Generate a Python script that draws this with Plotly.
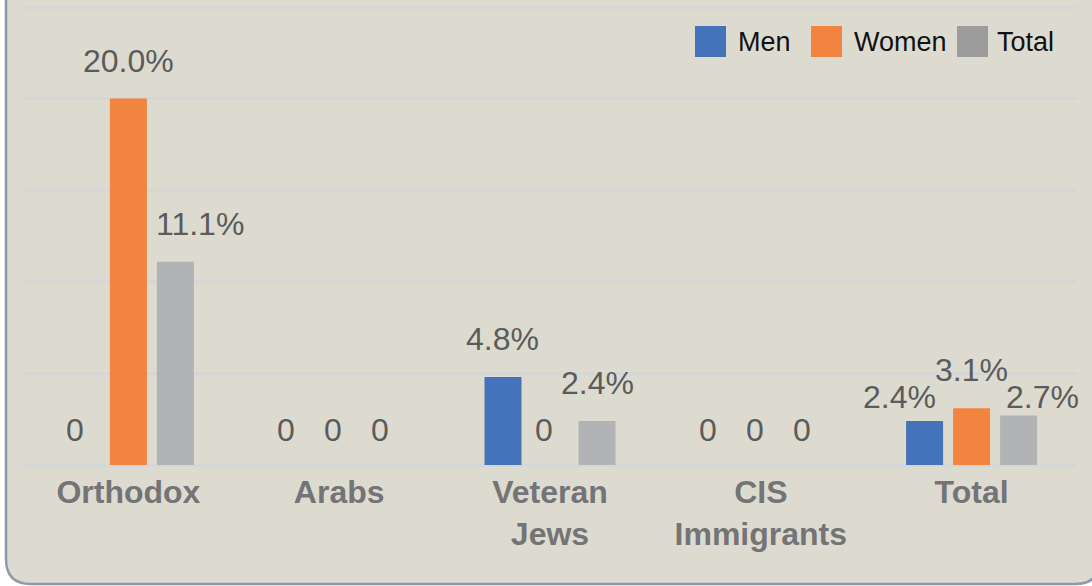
import plotly.graph_objects as go

# ---- data ----
categories = ["Orthodox", "Arabs", "Veteran<br>Jews", "CIS<br>Immigrants", "Total"]
series_names = ["Men", "Women", "Total"]
men = [0, 0, 4.8, 0, 2.4]
women = [20.0, 0, 0, 0, 3.1]
total = [11.1, 0, 2.4, 0, 2.7]
y_ticks = [0, 5, 10, 15, 20, 25]

# ---- style ----
bar_colors = ["#4472BB", "#F2843F", "#B2B3B5"]
legend_colors = ["#4472BB", "#F2843F", "#9C9C9D"]
BG = "#DDDBD0"
BORDER = "#8E99AC"
GRID = "#D5D6D6"
LABEL = "#5B5B5B"
CAT = "#747476"
FONT = "Arial, Liberation Sans, sans-serif"

W, H = 1092, 586
L, R, T, B = 23, 15, 2, 121
PW, PH = W - L - R, H - T - B
TOP_GRID_PX = 7
YMAX = 25 * (H - B - T) / (H - B - TOP_GRID_PX)
BARGAP, GROUPGAP = 0.331, 0.213


def px(x):
    return (x - L) / PW


def py(y):
    return (H - B - y) / PH


fig = go.Figure()
xs = list(range(len(categories)))
for name, vals, col in zip(series_names, [men, women, total], bar_colors):
    fig.add_trace(go.Bar(x=xs, y=vals, name=name, marker=dict(color=col, line=dict(width=0)),
                         showlegend=False, hoverinfo="skip"))

# data labels
slot = (1 - BARGAP) / 3
nudge = {(0, 2): (25, 0), (4, 0): (-25, -14), (4, 2): (24, -19)}
for j, vals in enumerate([men, women, total]):
    for i, v in enumerate(vals):
        txt = "0" if v == 0 else f"{v:.1f}%"
        dx, dy = nudge.get((i, j), (0, 0))
        if v == 0:
            dx += -6
            base = 35
        else:
            base = 38
        fig.add_annotation(x=i + (j - 1) * slot, y=v, xref="x", yref="y", text=txt,
                           showarrow=False, xanchor="center", yanchor="middle",
                           xshift=dx, yshift=base + dy,
                           font=dict(family=FONT, size=32, color=LABEL))

# background panel with rounded bottom corners
x0, x1, y0, y1, r = 6, 1100, -30, 584, 25
path = (f"M{px(x0)},{py(y0)} L{px(x0)},{py(y1 - r)} "
        f"Q{px(x0)},{py(y1)} {px(x0 + r)},{py(y1)} "
        f"L{px(x1 - r)},{py(y1)} Q{px(x1)},{py(y1)} {px(x1)},{py(y1 - r)} "
        f"L{px(x1)},{py(y0)} Z")
fig.add_shape(type="path", path=path, xref="paper", yref="paper", layer="below",
              fillcolor=BG, line=dict(color=BORDER, width=2.5))

# custom legend
leg_sq = [695, 811, 957]
leg_tx = [736, 852, 995]
for name, col, sx, tx in zip(series_names, legend_colors, leg_sq, leg_tx):
    fig.add_shape(type="rect", xref="paper", yref="paper",
                  x0=px(sx), x1=px(sx + 31), y0=py(57), y1=py(26),
                  fillcolor=col, line=dict(width=0))
    fig.add_annotation(x=px(tx), y=py(42), xref="paper", yref="paper", text=name,
                       showarrow=False, xanchor="left", yanchor="middle",
                       font=dict(family=FONT, size=27, color="#111111"))

fig.update_layout(
    width=W, height=H,
    margin=dict(l=L, r=R, t=T, b=B, pad=0),
    paper_bgcolor="white", plot_bgcolor="rgba(0,0,0,0)",
    barmode="group", bargap=BARGAP, bargroupgap=GROUPGAP,
    showlegend=False,
    font=dict(family=FONT),
    xaxis=dict(tickmode="array", tickvals=xs,
               ticktext=[f"<b>{c}</b>" for c in categories],
               range=[-0.5, len(categories) - 0.5],
               tickfont=dict(family=FONT, size=32, color=CAT),
               ticklabelstandoff=5,
               showgrid=False, zeroline=False, showline=False, ticks=""),
    yaxis=dict(range=[0, YMAX], tickvals=y_ticks, showticklabels=False,
               showgrid=True, gridcolor=GRID, gridwidth=2.5,
               zeroline=True, zerolinecolor=GRID, zerolinewidth=2.5,
               showline=False, ticks=""),
)

fig.write_html("out.html", config={"displayModeBar": False},
               post_script="document.body.style.margin='0';")
